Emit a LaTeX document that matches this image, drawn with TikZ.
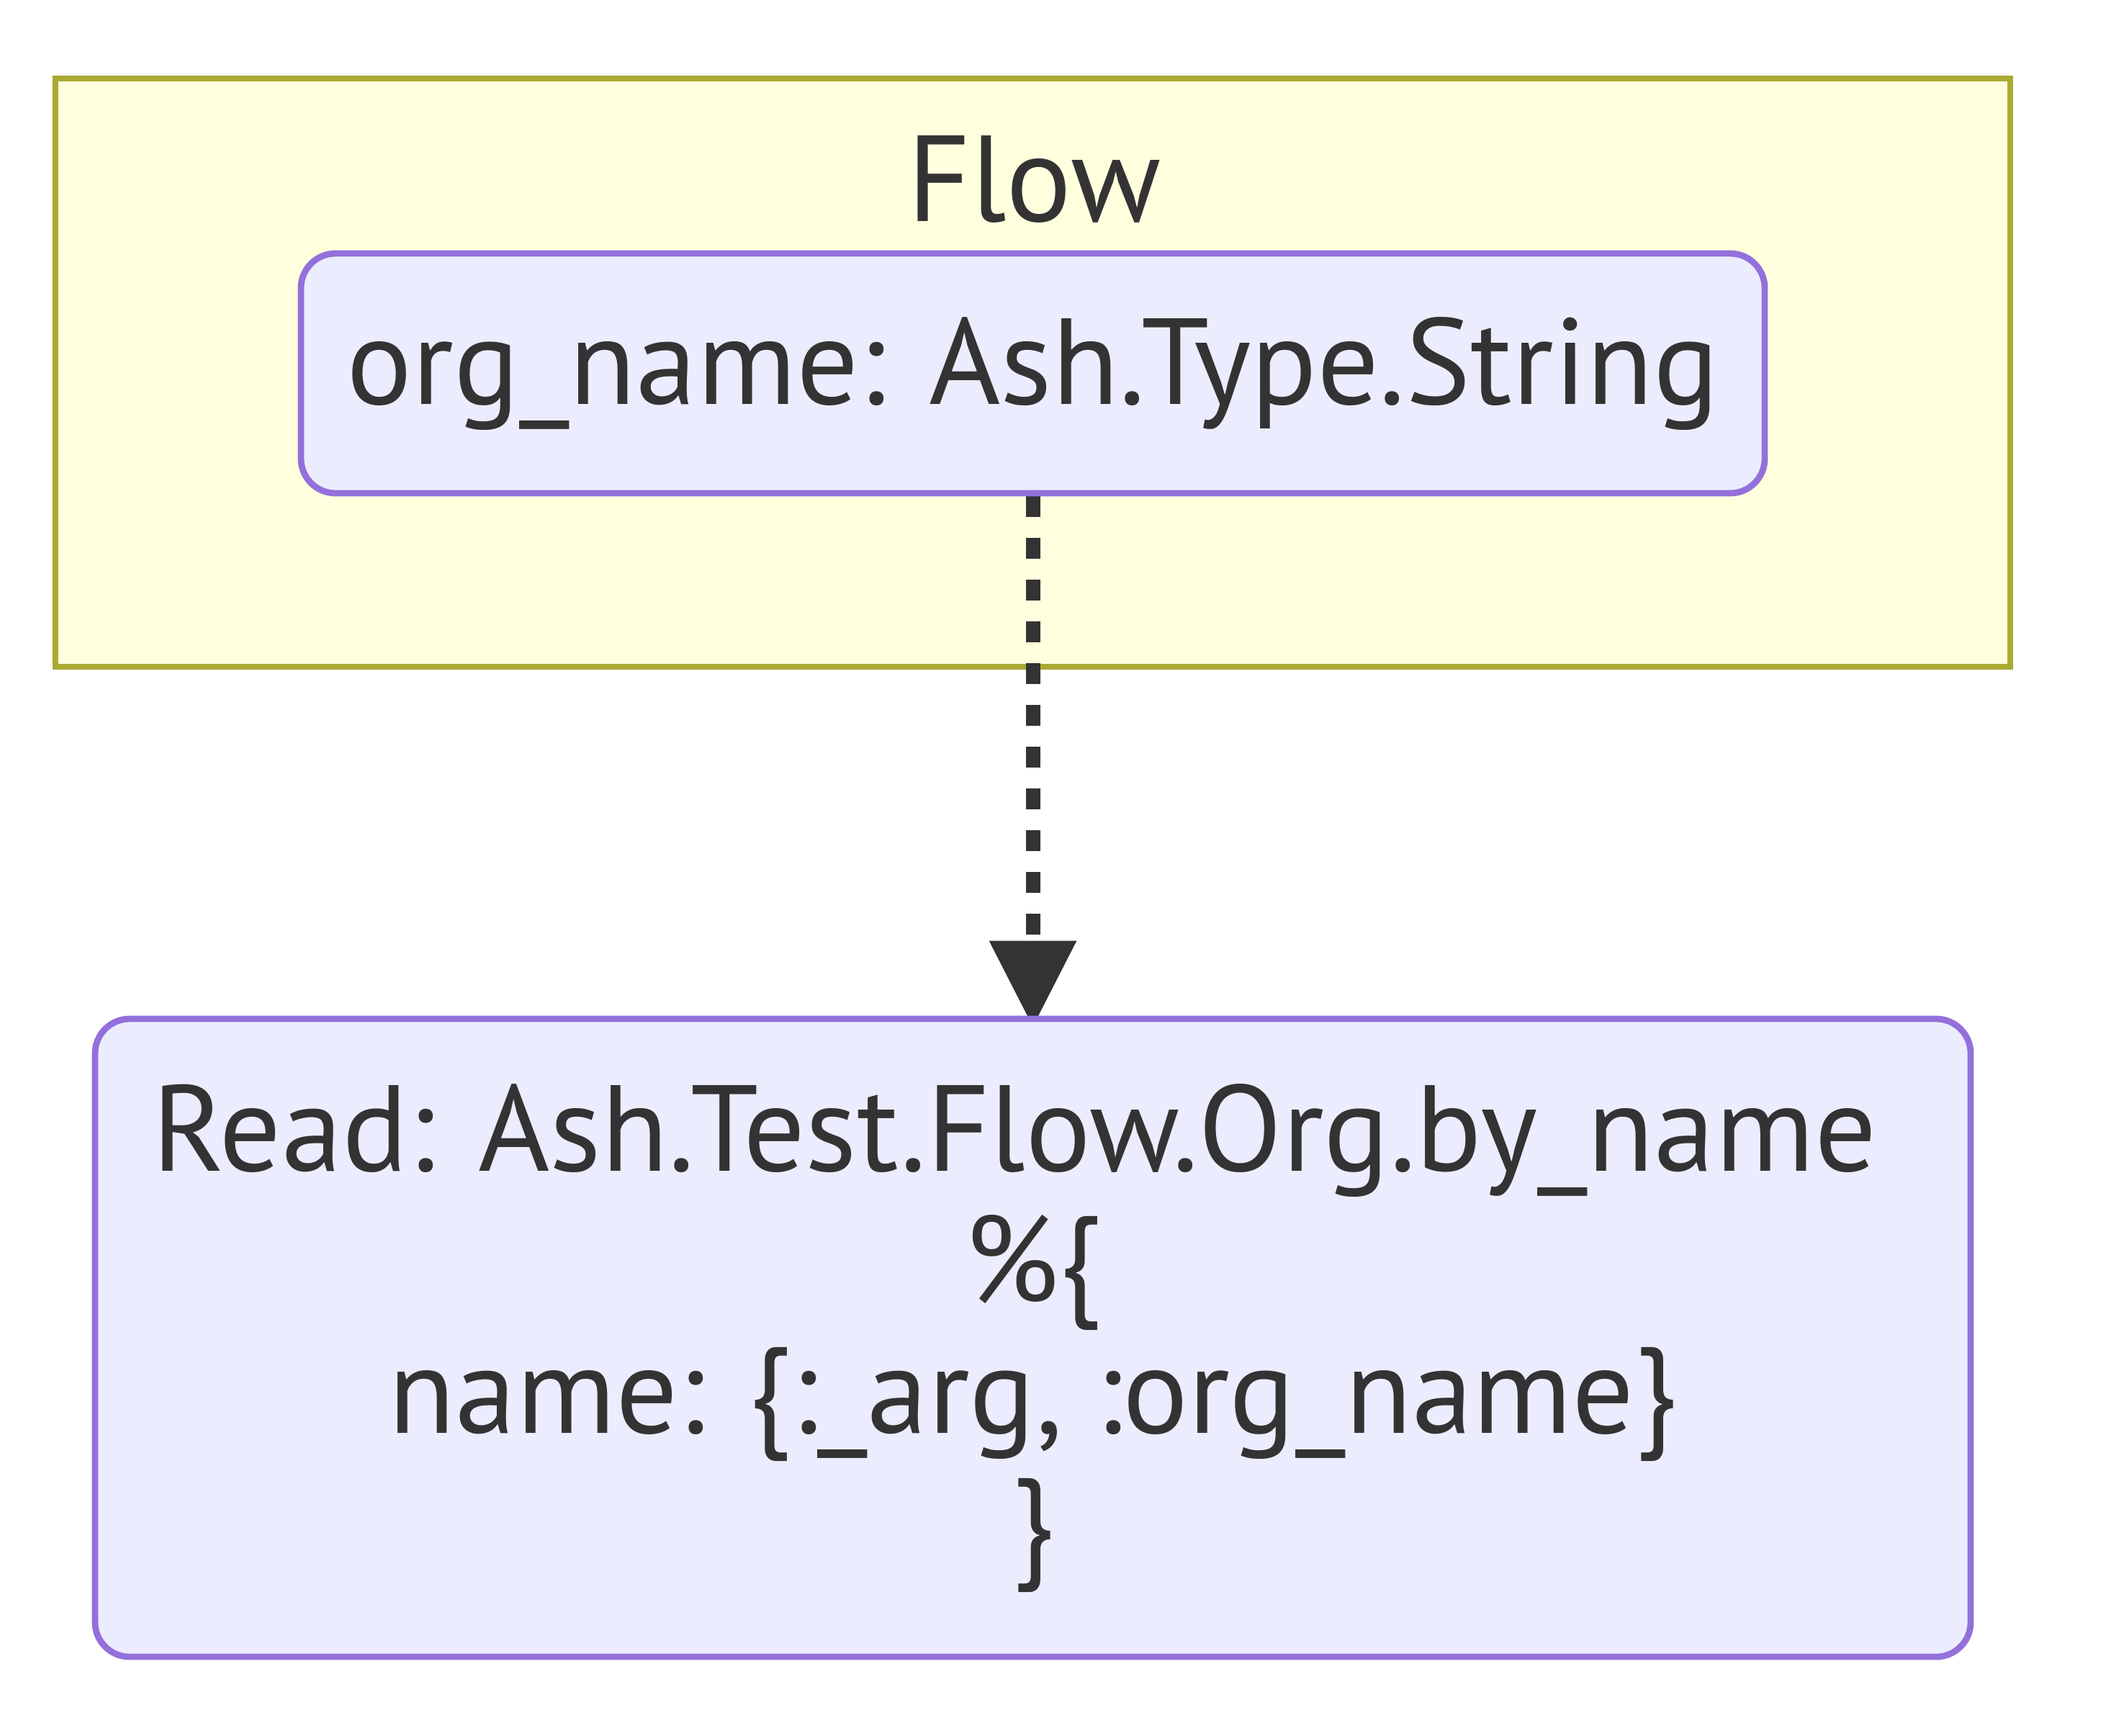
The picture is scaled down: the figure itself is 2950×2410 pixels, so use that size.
\documentclass[tikz,border=0pt]{standalone}
\usepackage{fontspec}
\setmainfont{PT Sans}
\usetikzlibrary{arrows.meta,backgrounds}
\definecolor{txt}{HTML}{333333}
\definecolor{clfill}{HTML}{FFFFDE}
\definecolor{cldraw}{HTML}{AAAA33}
\definecolor{ndfill}{HTML}{ECECFF}
\definecolor{nddraw}{HTML}{9370DB}
\tikzset{
  box/.style={draw=nddraw, fill=ndfill, line width=2.2pt, rounded corners=12pt,
    inner sep=0pt, text=txt, align=center, font=\fontsize{42.5}{45.5}\selectfont},
  cluster/.style={draw=cldraw, fill=clfill, line width=2.2pt, inner sep=0pt},
  lbl/.style={text=txt, inner sep=0pt, font=\fontsize{42.5}{45.5}\selectfont},
  link/.style={draw=txt, line width=5pt, dash pattern=on 7.25pt off 7.25pt,
    -{Triangle[length=30pt,width=29pt]}, shorten >=-4pt}
}
\begin{document}
\begin{tikzpicture}[x=0.25pt,y=-0.25pt]
\useasboundingbox (0,0) rectangle (2950,2410);
\begin{scope}[on background layer]
\fill[white] (0,0) rectangle (2950,2410);
\node[cluster, minimum width=678.75pt, minimum height=204.25pt] (flow) at (1434.5,517.5) {};
\end{scope}
\node[lbl, anchor=base] (flowlabel) at (1436,307) {Flow};
\node[box, minimum width=508.25pt, minimum height=83.25pt] (arg) at (1434.5,518.5) {org\_name: Ash.Type.String};
\node[box, minimum width=651.25pt, minimum height=221.5pt] (read) at (1434.5,1858)
  {Read: Ash.Test.Flow.Org.by\_name\hspace*{0.3em}\\ \%\{\\ name: \{:\_arg, :org\_name\}\\ \}};
\begin{scope}[on background layer]
\draw[link] (arg.south) -- (read.north);
\end{scope}
\end{tikzpicture}
\end{document}
